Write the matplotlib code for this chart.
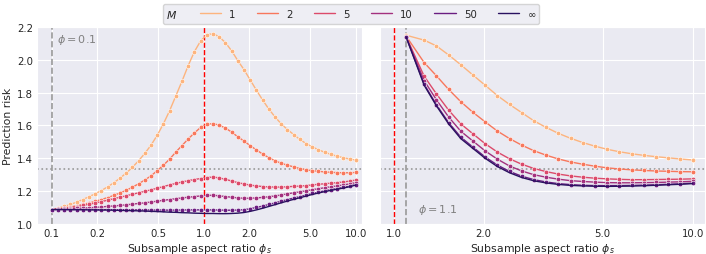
import matplotlib
matplotlib.use("Agg")
import matplotlib.pyplot as plt
import numpy as np
import seaborn as sns
from matplotlib.lines import Line2D
from matplotlib.offsetbox import HPacker
from matplotlib.ticker import NullLocator, NullFormatter

# ensemble sizes shown in the legend
M_LABELS = ["1", "2", "5", "10", "50", "∞"]
COLORS = ["#fdb47e", "#f8775c", "#dc4a6a", "#a3307e", "#6a1d81", "#2a1260"]

PHI_LEFT = 0.1
PHI_RIGHT = 1.1
NULL_RISK = 4 / 3

# subsample aspect ratios (log grid used in the experiment)
phi_s_left = np.logspace(-1, 1, 50)
phi_s_right = np.concatenate([[1.1], phi_s_left[27:]])

# prediction risk, phi = 0.1
risk_left_1 = [1.088, 1.097, 1.107, 1.119, 1.133, 1.149, 1.166, 1.184, 1.204, 1.226,
               1.251, 1.279, 1.310, 1.345, 1.385, 1.430, 1.480, 1.540, 1.610, 1.690,
               1.780, 1.870, 1.965, 2.050, 2.115, 2.152, 2.160, 2.140, 2.105, 2.055,
               1.995, 1.940, 1.877, 1.815, 1.755, 1.700, 1.652, 1.610, 1.575, 1.545,
               1.515, 1.490, 1.470, 1.452, 1.437, 1.424, 1.413, 1.404, 1.396, 1.390]
risk_left_2 = [1.088, 1.093, 1.098, 1.104, 1.111, 1.119, 1.128, 1.138, 1.149, 1.161,
               1.174, 1.189, 1.205, 1.224, 1.245, 1.268, 1.293, 1.325, 1.358, 1.395,
               1.438, 1.478, 1.518, 1.555, 1.588, 1.607, 1.612, 1.602, 1.584, 1.560,
               1.531, 1.505, 1.477, 1.451, 1.426, 1.404, 1.385, 1.370, 1.358, 1.348,
               1.338, 1.330, 1.325, 1.321, 1.317, 1.315, 1.313, 1.312, 1.312, 1.314]
risk_left_5 = [1.088, 1.091, 1.095, 1.100, 1.106, 1.113, 1.120, 1.128, 1.136, 1.145,
               1.154, 1.163, 1.172, 1.181, 1.190, 1.199, 1.208, 1.218, 1.228, 1.238,
               1.247, 1.256, 1.264, 1.271, 1.277, 1.283, 1.286, 1.281, 1.272, 1.262,
               1.252, 1.244, 1.237, 1.232, 1.228, 1.226, 1.225, 1.225, 1.227, 1.229,
               1.231, 1.234, 1.238, 1.242, 1.245, 1.249, 1.252, 1.256, 1.261, 1.268]
risk_left_10 = [1.088, 1.089, 1.091, 1.093, 1.095, 1.097, 1.099, 1.101, 1.104, 1.107,
                1.110, 1.113, 1.117, 1.121, 1.125, 1.129, 1.134, 1.139, 1.144, 1.149,
                1.154, 1.159, 1.163, 1.167, 1.171, 1.174, 1.175, 1.172, 1.167, 1.163,
                1.159, 1.157, 1.157, 1.159, 1.162, 1.166, 1.171, 1.177, 1.184, 1.190,
                1.196, 1.202, 1.209, 1.215, 1.221, 1.227, 1.232, 1.238, 1.244, 1.252]
risk_left_50 = [1.088, 1.088, 1.088, 1.088, 1.088, 1.088, 1.088, 1.088, 1.087, 1.088,
                1.087, 1.087, 1.087, 1.086, 1.086, 1.086, 1.085, 1.085, 1.085, 1.084,
                1.085, 1.085, 1.086, 1.086, 1.086, 1.086, 1.086, 1.085, 1.084, 1.084,
                1.085, 1.087, 1.093, 1.101, 1.109, 1.119, 1.129, 1.139, 1.149, 1.158,
                1.167, 1.176, 1.186, 1.194, 1.202, 1.209, 1.216, 1.223, 1.230, 1.240]
risk_left_inf = [1.088, 1.088, 1.088, 1.087, 1.087, 1.087, 1.086, 1.086, 1.085, 1.085,
                 1.084, 1.083, 1.082, 1.081, 1.080, 1.079, 1.077, 1.076, 1.074, 1.072,
                 1.071, 1.069, 1.068, 1.066, 1.065, 1.064, 1.064, 1.063, 1.063, 1.064,
                 1.066, 1.070, 1.077, 1.086, 1.096, 1.107, 1.118, 1.129, 1.140, 1.150,
                 1.160, 1.170, 1.180, 1.189, 1.197, 1.205, 1.212, 1.219, 1.227, 1.237]

# prediction risk, phi = 1.1
risk_right_1 = [2.150, 2.120, 2.085, 2.030, 1.970, 1.907, 1.845, 1.782, 1.728, 1.678,
                1.628, 1.588, 1.552, 1.522, 1.496, 1.474, 1.455, 1.440, 1.428, 1.418,
                1.410, 1.403, 1.396, 1.390]
risk_right_2 = [2.145, 1.983, 1.903, 1.820, 1.745, 1.680, 1.622, 1.566, 1.520, 1.480,
                1.446, 1.419, 1.396, 1.378, 1.364, 1.352, 1.342, 1.335, 1.330, 1.326,
                1.323, 1.321, 1.319, 1.318]
risk_right_5 = [2.142, 1.900, 1.793, 1.694, 1.610, 1.549, 1.489, 1.438, 1.397, 1.364,
                1.338, 1.319, 1.304, 1.293, 1.285, 1.279, 1.275, 1.272, 1.270, 1.270,
                1.271, 1.272, 1.273, 1.275]
risk_right_10 = [2.141, 1.873, 1.757, 1.652, 1.565, 1.505, 1.445, 1.395, 1.353, 1.323,
                 1.300, 1.285, 1.273, 1.264, 1.259, 1.255, 1.252, 1.251, 1.251, 1.252,
                 1.253, 1.255, 1.257, 1.260]
risk_right_50 = [2.140, 1.851, 1.727, 1.618, 1.529, 1.468, 1.408, 1.359, 1.320, 1.291,
                 1.270, 1.256, 1.246, 1.240, 1.236, 1.234, 1.234, 1.234, 1.235, 1.237,
                 1.239, 1.242, 1.245, 1.249]
risk_right_inf = [2.140, 1.845, 1.720, 1.610, 1.520, 1.460, 1.400, 1.350, 1.312, 1.283,
                  1.263, 1.250, 1.241, 1.235, 1.232, 1.230, 1.229, 1.230, 1.231, 1.233,
                  1.236, 1.239, 1.242, 1.246]

risks_left = [risk_left_1, risk_left_2, risk_left_5, risk_left_10, risk_left_50, risk_left_inf]
risks_right = [risk_right_1, risk_right_2, risk_right_5, risk_right_10, risk_right_50, risk_right_inf]

XTICKS_LEFT = [0.1, 0.2, 0.5, 1.0, 2.0, 5.0, 10.0]
XTICKS_RIGHT = [1.0, 2.0, 5.0, 10.0]
YTICKS = [1.0, 1.2, 1.4, 1.6, 1.8, 2.0, 2.2]

FS = 7.3


def draw_panel(ax, xs, risks, phi, xlim, xticks):
    """Theory lines plus empirical markers for one value of phi."""
    for i, ys in enumerate(risks):
        ax.plot(xs, ys, color=COLORS[i], lw=1.0, zorder=3 + i)
        if M_LABELS[i] != "∞":
            ax.plot(xs, ys, "o", ms=3.3, color=COLORS[i], mec="white", mew=0.4, zorder=3 + i)
    ax.axvline(phi, color="#999999", ls="--", lw=1.2, zorder=2)
    ax.axvline(1.0, color="red", ls="--", lw=1.0, zorder=2)
    ax.axhline(NULL_RISK, color="#999999", ls=":", lw=1.2, zorder=2)
    ax.set_xscale("log")
    ax.set_xlim(*xlim)
    ax.xaxis.set_minor_locator(NullLocator())
    ax.xaxis.set_minor_formatter(NullFormatter())
    ax.set_xticks(xticks)
    ax.set_xticklabels(["%.1f" % t for t in xticks])
    ax.set_ylim(1.0, 2.2)
    ax.set_yticks(YTICKS)
    ax.set_yticklabels(["%.1f" % t for t in YTICKS])
    ax.tick_params(labelsize=FS, length=0, pad=3)
    ax.set_xlabel(r"Subsample aspect ratio $\phi_s$", fontsize=FS + 0.5, labelpad=2)


sns.set_style("darkgrid")
plt.rcParams["font.family"] = ["DejaVu Sans"]

fig = plt.figure(figsize=(7.06, 2.55), dpi=100)
ax1 = fig.add_axes([37 / 706, 30 / 255, 325 / 706, 197 / 255])
ax2 = fig.add_axes([380 / 706, 30 / 255, 325 / 706, 197 / 255])

draw_panel(ax1, phi_s_left, risks_left, PHI_LEFT, (0.08, 11.0), XTICKS_LEFT)
draw_panel(ax2, phi_s_right, risks_right, PHI_RIGHT, (0.9, 11.0), XTICKS_RIGHT)
ax2.tick_params(labelleft=False)
ax1.set_ylabel("Prediction risk", fontsize=FS + 0.5, labelpad=3)

ax1.text(0.109, 2.127, r"$\phi = 0.1$", color="#808080", fontsize=8, va="center")
ax2.text(1.21, 1.09, r"$\phi = 1.1$", color="#808080", fontsize=8, va="center")

# legend with the M title sitting in the same row
handles = [Line2D([], [], color=c, lw=1.0) for c in COLORS]
leg = fig.legend(handles, M_LABELS, title="$M$", loc="center",
                 bbox_to_anchor=(351 / 706, 1 - 15 / 255), ncol=6, fontsize=FS,
                 title_fontsize=FS + 0.5, handlelength=2.1, columnspacing=2.1,
                 borderpad=0.35, frameon=True)
box = leg._legend_box
row = HPacker(pad=box.pad, sep=2.2 * FS, align="center", children=box.get_children())
row.set_figure(fig)
row.axes = leg.axes
row.set_offset(leg._findoffset)
leg._legend_box = row

fig.savefig("out.png", dpi=100)
